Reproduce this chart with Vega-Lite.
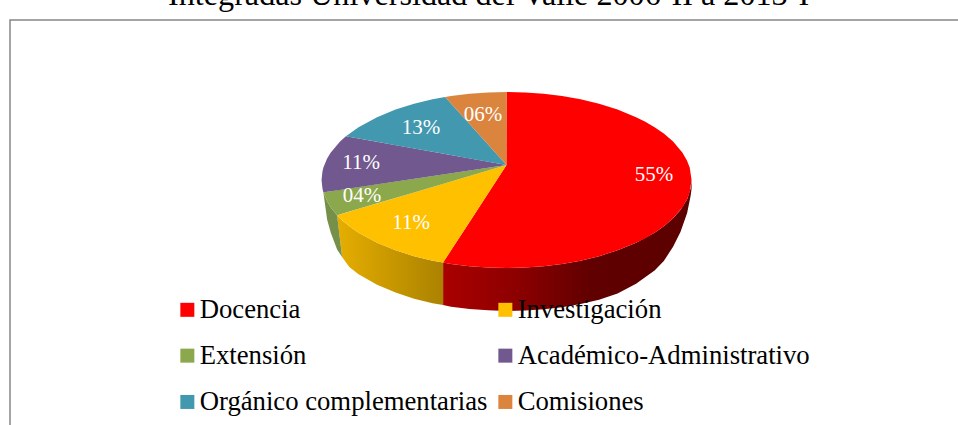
{
"$schema":"https://vega.github.io/schema/vega-lite/v6.json",
"width":960,"height":420,
"autosize":{"type":"none"},
"padding":{"left":10,"top":20,"right":0,"bottom":0},
"background":"white",
"config":{"view":{"stroke":"#868686","strokeWidth":1.5},"font":"Liberation Serif"},
"title":{"text":"Integradas Universidad del Valle 2006-II a 2013-I","font":"Liberation Serif","fontSize":32.2,"fontWeight":"normal","color":"#000000","anchor":"start","dx":158,"offset":8},
"data":{"values":[
{"serie":"Docencia","parte":"pared","x":-0.343,"y":-0.939,"y2":-1.42},
{"serie":"Docencia","parte":"pared","x":-0.3,"y":-0.954,"y2":-1.44},
{"serie":"Docencia","parte":"pared","x":-0.2,"y":-0.98,"y2":-1.465},
{"serie":"Docencia","parte":"pared","x":-0.1,"y":-0.995,"y2":-1.48},
{"serie":"Docencia","parte":"pared","x":0,"y":-1,"y2":-1.489},
{"serie":"Docencia","parte":"pared","x":0.1,"y":-0.995,"y2":-1.484},
{"serie":"Docencia","parte":"pared","x":0.2,"y":-0.98,"y2":-1.47},
{"serie":"Docencia","parte":"pared","x":0.3,"y":-0.954,"y2":-1.445},
{"serie":"Docencia","parte":"pared","x":0.4,"y":-0.917,"y2":-1.41},
{"serie":"Docencia","parte":"pared","x":0.5,"y":-0.866,"y2":-1.36},
{"serie":"Docencia","parte":"pared","x":0.6,"y":-0.8,"y2":-1.29},
{"serie":"Docencia","parte":"pared","x":0.7,"y":-0.714,"y2":-1.18},
{"serie":"Docencia","parte":"pared","x":0.8,"y":-0.6,"y2":-1.03},
{"serie":"Docencia","parte":"pared","x":0.85,"y":-0.527,"y2":-0.92},
{"serie":"Docencia","parte":"pared","x":0.9,"y":-0.436,"y2":-0.76},
{"serie":"Docencia","parte":"pared","x":0.94,"y":-0.341,"y2":-0.59},
{"serie":"Docencia","parte":"pared","x":0.976,"y":-0.218,"y2":-0.375},
{"serie":"Docencia","parte":"pared","x":0.995,"y":-0.1,"y2":-0.18},
{"serie":"Docencia","parte":"pared","x":1,"y":0,"y2":-0.1},
{"serie":"Investigación","parte":"pared","x":-0.916,"y":-0.401,"y2":-0.401},
{"serie":"Investigación","parte":"pared","x":-0.889,"y":-0.458,"y2":-0.875},
{"serie":"Investigación","parte":"pared","x":-0.85,"y":-0.527,"y2":-0.99},
{"serie":"Investigación","parte":"pared","x":-0.8,"y":-0.6,"y2":-1.07},
{"serie":"Investigación","parte":"pared","x":-0.7,"y":-0.714,"y2":-1.19},
{"serie":"Investigación","parte":"pared","x":-0.6,"y":-0.8,"y2":-1.28},
{"serie":"Investigación","parte":"pared","x":-0.5,"y":-0.866,"y2":-1.35},
{"serie":"Investigación","parte":"pared","x":-0.4,"y":-0.917,"y2":-1.4},
{"serie":"Investigación","parte":"pared","x":-0.343,"y":-0.939,"y2":-1.42},
{"serie":"Extensión","parte":"pared","x":-0.99,"y":-0.141,"y2":-0.141},
{"serie":"Extensión","parte":"pared","x":-0.97,"y":-0.243,"y2":-0.45},
{"serie":"Extensión","parte":"pared","x":-0.95,"y":-0.312,"y2":-0.6},
{"serie":"Extensión","parte":"pared","x":-0.916,"y":-0.401,"y2":-0.79},
{"serie":"Extensión","parte":"pared","x":-0.889,"y":-0.875,"y2":-0.875},
{"serie":"Docencia","parte":"cara","x":-0.343,"y":-0.939,"y2":-0.939},
{"serie":"Docencia","parte":"cara","x":-0.3,"y":-0.8,"y2":-0.954},
{"serie":"Docencia","parte":"cara","x":-0.2,"y":-0.477,"y2":-0.98},
{"serie":"Docencia","parte":"cara","x":-0.1,"y":-0.153,"y2":-0.995},
{"serie":"Docencia","parte":"cara","x":-0.001,"y":0.167,"y2":-1},
{"serie":"Docencia","parte":"cara","x":0,"y":1,"y2":-1},
{"serie":"Docencia","parte":"cara","x":0.1,"y":0.995,"y2":-0.995},
{"serie":"Docencia","parte":"cara","x":0.2,"y":0.98,"y2":-0.98},
{"serie":"Docencia","parte":"cara","x":0.3,"y":0.954,"y2":-0.954},
{"serie":"Docencia","parte":"cara","x":0.4,"y":0.917,"y2":-0.917},
{"serie":"Docencia","parte":"cara","x":0.5,"y":0.866,"y2":-0.866},
{"serie":"Docencia","parte":"cara","x":0.6,"y":0.8,"y2":-0.8},
{"serie":"Docencia","parte":"cara","x":0.7,"y":0.714,"y2":-0.714},
{"serie":"Docencia","parte":"cara","x":0.75,"y":0.661,"y2":-0.661},
{"serie":"Docencia","parte":"cara","x":0.8,"y":0.6,"y2":-0.6},
{"serie":"Docencia","parte":"cara","x":0.85,"y":0.527,"y2":-0.527},
{"serie":"Docencia","parte":"cara","x":0.9,"y":0.436,"y2":-0.436},
{"serie":"Docencia","parte":"cara","x":0.95,"y":0.312,"y2":-0.312},
{"serie":"Docencia","parte":"cara","x":0.975,"y":0.222,"y2":-0.222},
{"serie":"Docencia","parte":"cara","x":0.99,"y":0.141,"y2":-0.141},
{"serie":"Docencia","parte":"cara","x":1,"y":0,"y2":0},
{"serie":"Investigación","parte":"cara","x":-0.916,"y":-0.401,"y2":-0.401},
{"serie":"Investigación","parte":"cara","x":-0.9,"y":-0.391,"y2":-0.436},
{"serie":"Investigación","parte":"cara","x":-0.85,"y":-0.36,"y2":-0.527},
{"serie":"Investigación","parte":"cara","x":-0.8,"y":-0.328,"y2":-0.6},
{"serie":"Investigación","parte":"cara","x":-0.7,"y":-0.266,"y2":-0.714},
{"serie":"Investigación","parte":"cara","x":-0.6,"y":-0.204,"y2":-0.8},
{"serie":"Investigación","parte":"cara","x":-0.5,"y":-0.142,"y2":-0.866},
{"serie":"Investigación","parte":"cara","x":-0.4,"y":-0.079,"y2":-0.917},
{"serie":"Investigación","parte":"cara","x":-0.343,"y":-0.044,"y2":-0.939},
{"serie":"Investigación","parte":"cara","x":-0.3,"y":-0.017,"y2":-0.8},
{"serie":"Investigación","parte":"cara","x":-0.2,"y":0.045,"y2":-0.477},
{"serie":"Investigación","parte":"cara","x":-0.1,"y":0.108,"y2":-0.153},
{"serie":"Investigación","parte":"cara","x":0,"y":0.17,"y2":0.17},
{"serie":"Extensión","parte":"cara","x":-0.99,"y":-0.141,"y2":-0.141},
{"serie":"Extensión","parte":"cara","x":-0.97,"y":-0.135,"y2":-0.243},
{"serie":"Extensión","parte":"cara","x":-0.95,"y":-0.128,"y2":-0.312},
{"serie":"Extensión","parte":"cara","x":-0.916,"y":-0.118,"y2":-0.401},
{"serie":"Extensión","parte":"cara","x":-0.8,"y":-0.081,"y2":-0.328},
{"serie":"Extensión","parte":"cara","x":-0.5,"y":0.013,"y2":-0.142},
{"serie":"Extensión","parte":"cara","x":0,"y":0.17,"y2":0.17},
{"serie":"Académico-Administrativo","parte":"cara","x":-1,"y":0,"y2":0},
{"serie":"Académico-Administrativo","parte":"cara","x":-0.995,"y":0.1,"y2":-0.1},
{"serie":"Académico-Administrativo","parte":"cara","x":-0.99,"y":0.141,"y2":-0.141},
{"serie":"Académico-Administrativo","parte":"cara","x":-0.97,"y":0.243,"y2":-0.135},
{"serie":"Académico-Administrativo","parte":"cara","x":-0.95,"y":0.312,"y2":-0.128},
{"serie":"Académico-Administrativo","parte":"cara","x":-0.9,"y":0.436,"y2":-0.113},
{"serie":"Académico-Administrativo","parte":"cara","x":-0.868,"y":0.497,"y2":-0.103},
{"serie":"Académico-Administrativo","parte":"cara","x":0,"y":0.17,"y2":0.17},
{"serie":"Orgánico complementarias","parte":"cara","x":-0.868,"y":0.497,"y2":0.497},
{"serie":"Orgánico complementarias","parte":"cara","x":-0.8,"y":0.6,"y2":0.472},
{"serie":"Orgánico complementarias","parte":"cara","x":-0.7,"y":0.714,"y2":0.434},
{"serie":"Orgánico complementarias","parte":"cara","x":-0.6,"y":0.8,"y2":0.396},
{"serie":"Orgánico complementarias","parte":"cara","x":-0.5,"y":0.866,"y2":0.359},
{"serie":"Orgánico complementarias","parte":"cara","x":-0.4,"y":0.917,"y2":0.321},
{"serie":"Orgánico complementarias","parte":"cara","x":-0.332,"y":0.943,"y2":0.295},
{"serie":"Orgánico complementarias","parte":"cara","x":-0.2,"y":0.636,"y2":0.245},
{"serie":"Orgánico complementarias","parte":"cara","x":-0.1,"y":0.403,"y2":0.208},
{"serie":"Orgánico complementarias","parte":"cara","x":0,"y":0.17,"y2":0.17},
{"serie":"Comisiones","parte":"cara","x":-0.332,"y":0.943,"y2":0.943},
{"serie":"Comisiones","parte":"cara","x":-0.3,"y":0.954,"y2":0.868},
{"serie":"Comisiones","parte":"cara","x":-0.2,"y":0.98,"y2":0.636},
{"serie":"Comisiones","parte":"cara","x":-0.1,"y":0.995,"y2":0.403},
{"serie":"Comisiones","parte":"cara","x":0,"y":1,"y2":0.17},
{"serie":"Docencia","parte":"etiqueta","x":0.797,"y":0.057,"share":0.55},
{"serie":"Investigación","parte":"etiqueta","x":-0.516,"y":-0.489,"share":0.11},
{"serie":"Extensión","parte":"etiqueta","x":-0.781,"y":-0.182,"share":0.04},
{"serie":"Académico-Administrativo","parte":"etiqueta","x":-0.786,"y":0.193,"share":0.11},
{"serie":"Orgánico complementarias","parte":"etiqueta","x":-0.462,"y":0.591,"share":0.13},
{"serie":"Comisiones","parte":"etiqueta","x":-0.127,"y":0.739,"share":0.06}
]},
"encoding":{
"x":{"field":"x","type":"quantitative","axis":null,"scale":{"domain":[-2.684,2.505],"nice":false,"zero":false}},
"y":{"field":"y","type":"quantitative","axis":null,"scale":{"domain":[-2.955,1.818],"nice":false,"zero":false}}
},
"layer":[
{"transform":[{"filter":"datum.parte==='pared' && datum.serie==='Docencia'"}],
"mark":{"type":"area","clip":false,"color":{"gradient":"linear","x1":0,"y1":0,"x2":1,"y2":0,"stops":[{"offset":0,"color":"#aa0000"},{"offset":0.3,"color":"#8c0000"},{"offset":0.6,"color":"#600000"},{"offset":1,"color":"#5c0000"}]}},
"encoding":{"y2":{"field":"y2"}}},
{"transform":[{"filter":"datum.parte==='pared' && datum.serie==='Investigación'"}],
"mark":{"type":"area","color":{"gradient":"linear","x1":0,"y1":0,"x2":1,"y2":0,"stops":[{"offset":0,"color":"#e6ae00"},{"offset":1,"color":"#ab8200"}]}},
"encoding":{"y2":{"field":"y2"}}},
{"transform":[{"filter":"datum.parte==='pared' && datum.serie==='Extensión'"}],
"mark":{"type":"area","color":"#76904a"},
"encoding":{"y2":{"field":"y2"}}},
{"transform":[{"filter":"datum.parte==='cara'"}],
"mark":{"type":"area"},
"encoding":{"y2":{"field":"y2"},
"color":{"field":"serie","type":"nominal","scale":{"domain":["Docencia","Investigación","Extensión","Académico-Administrativo","Orgánico complementarias","Comisiones"],"range":["#FF0000","#FFC000","#8BA84C","#71588F","#4198AF","#DB843D"]},
"legend":{"orient":"none","direction":"horizontal","legendX":164,"legendY":276,"columns":2,"title":null,"symbolType":"square","symbolSize":196,"symbolStrokeWidth":0,"symbolOpacity":1,"labelFont":"Liberation Serif","labelFontSize":26.7,"labelColor":"#000000","labelLimit":400,"labelOffset":-1,"rowPadding":18.3,"columnPadding":4,"zindex":2}}}},
{"transform":[{"filter":"datum.parte==='etiqueta'"}],
"mark":{"type":"text","font":"Liberation Serif","fontSize":21,"color":"#ffffff","baseline":"middle","align":"center"},
"encoding":{"text":{"field":"share","type":"quantitative","format":"03.0%"}}}
]
}
